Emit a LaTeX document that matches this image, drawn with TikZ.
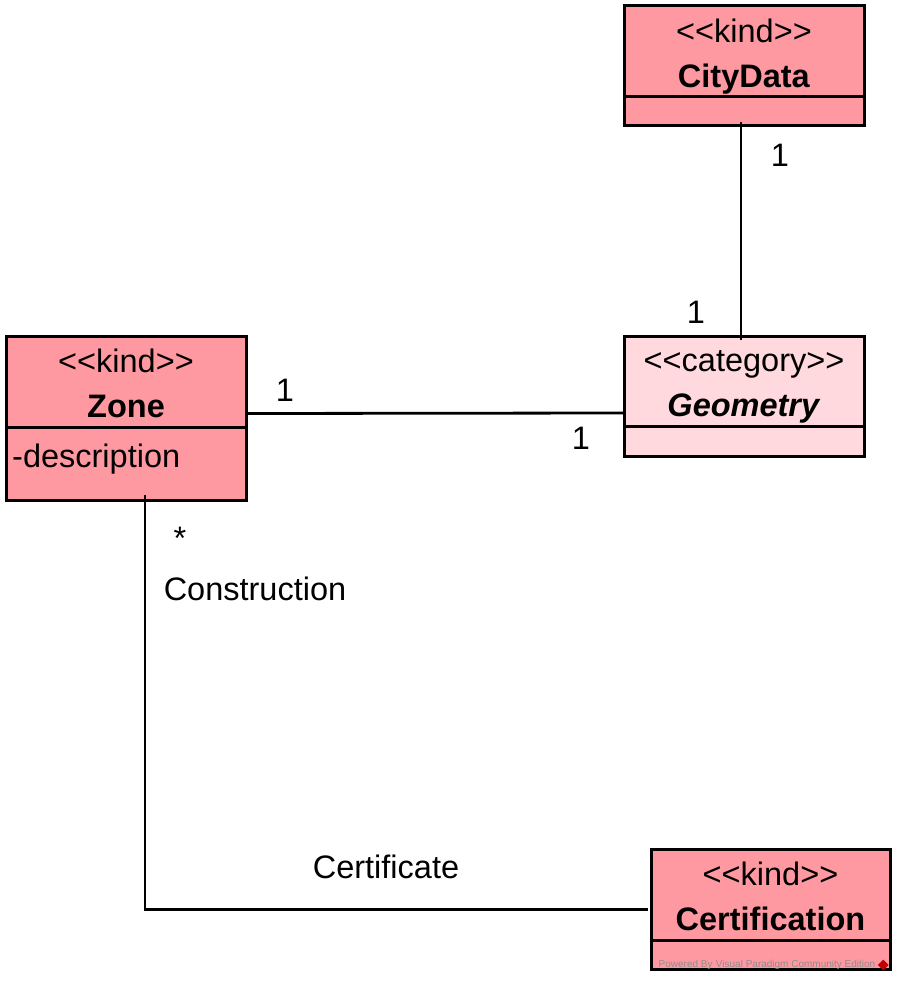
\documentclass[tikz,border=0pt]{standalone}
\usepackage{fontspec}
\setmainfont{Liberation Sans}[Ligatures=TeXOff]
\usetikzlibrary{positioning, shapes.geometric}
\definecolor{kindpink}{RGB}{255,153,161}
\definecolor{catpink}{RGB}{255,217,222}
\newcommand{\stereo}[1]{<<#1>>}

\begin{document}
\begin{tikzpicture}[x=1pt, y=-1pt, font=\fontsize{32.5}{45}\selectfont,
  classhead/.style={draw, line width=3pt, outer sep=0pt, inner sep=0pt,
    minimum width=240pt, minimum height=91pt, align=center,
    text height=75pt, text depth=3.5pt},
  classbody/.style={draw, line width=3pt, outer sep=0pt, inner sep=0pt,
    minimum width=240pt},
  assoc/.style={line width=2.8pt},
  mult/.style={inner sep=0pt}]
\useasboundingbox (0,0) rectangle (903,981);

% classes
\node[classhead, fill=kindpink] (cityhead) at (744,51.5)
  {\stereo{kind}\\\textbf{CityData}};
\node[classbody, fill=kindpink, minimum height=29pt, below=0pt of cityhead] (citybody) {};

\node[classhead, fill=catpink, minimum height=90pt] (geomhead) at (744,381)
  {\stereo{category}\\\textbf{\textit{Geometry}}};
\node[classbody, fill=catpink, minimum height=30pt, below=0pt of geomhead] (geombody) {};

\node[classhead, fill=kindpink] (zonehead) at (126,381.5)
  {\stereo{kind}\\\textbf{Zone}};
\node[classbody, fill=kindpink, minimum height=73pt, below=0pt of zonehead] (zonebody) {};
\node[anchor=west, inner sep=0pt] (zonedesc) at ([xshift=6pt, yshift=-32pt]zonebody.north west) {-description};

\node[classhead, fill=kindpink, minimum width=239pt] (certhead) at (770.5,894.5)
  {\stereo{kind}\\\textbf{Certification}};
\node[classbody, fill=kindpink, minimum width=239pt, minimum height=29pt, below=0pt of certhead] (certbody) {};
\node[inner sep=0pt, text=black!45, font=\fontsize{10}{12}\selectfont] (vpmark) at (767,965)
  {Powered By\,\,Visual Paradigm Community Edition};
\node[diamond, fill=red!75!black, inner sep=0pt, minimum size=11pt, right=2pt of vpmark] (vpicon) {};

% associations
\draw[assoc] ([xshift=-3pt, yshift=4pt]citybody.south) -- ([xshift=-3pt, yshift=-4pt]geomhead.north);
\draw[assoc] ([xshift=2pt, yshift=-32pt]zonehead.east) -- ([yshift=-32pt]geomhead.west);
\draw[assoc] ([xshift=19pt, yshift=5pt]zonebody.south) |- ([xshift=-3pt, yshift=-15pt]certhead.west);

% labels
\node[mult] (m1) at (780,155) {1};
\node[mult] (m2) at (696,312) {1};
\node[mult] (m3) at (285,390) {1};
\node[mult] (m4) at (581,438) {1};
\node[mult] (m5) at (180,538) {*};
\node[mult] (construction) at (255,589) {Construction};
\node[mult] (certificate) at (386,867) {Certificate};
\end{tikzpicture}
\end{document}
